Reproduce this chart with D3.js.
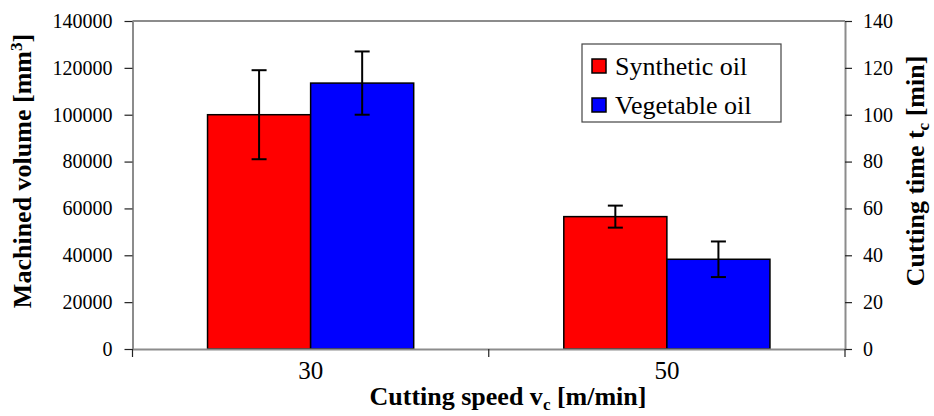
<html>

<head>
    <style>
        body { margin: 0; background: #fff; }
        .axis path, .frame { stroke: #8c8c8c; stroke-width: 2; fill: none; }
        .axis line { stroke: #222; stroke-width: 1.2; }
        .axis text { font-size: 20px; }
        .title { font-weight: bold; font-size: 26px; }
        .bar { stroke: #000; stroke-width: 1.5; }
        .err { stroke: #000; stroke-width: 2; }
    </style>
</head>

<body>
    <svg id="container" height="416" width="934"></svg>
</body>

<script src="https://cdn.jsdelivr.net/npm/d3@7"></script>
<script>
    // Data
    let speeds = ["30", "50"];
    let oils = ["Synthetic oil", "Vegetable oil"];
    let oilColors = ["#ff0000", "#0000ff"];
    let synthetic = [100000, 56500];
    let vegetable = [113500, 38300];
    let syntheticErr = [19000, 4700];
    let vegetableErr = [13500, 7600];
    let leftTicks = [0, 20000, 40000, 60000, 80000, 100000, 120000, 140000];
    let rightTicks = [0, 20, 40, 60, 80, 100, 120, 140];

    let serif = "'Liberation Serif', Tinos, 'Times New Roman', Times, 'DejaVu Serif', 'Noto Serif', serif";
    let svg = d3.select("#container");
    let plotLeft = 132.5, plotRight = 845, plotTop = 21, plotBottom = 349;

    // Scales
    let x0 = d3.scaleBand().domain(speeds).range([plotLeft, plotRight]);
    let x1 = d3.scaleBand().domain(oils).range([0, x0.bandwidth()]).paddingOuter(0.728);
    let yL = d3.scaleLinear().domain([0, 140000]).range([plotBottom, plotTop]);
    let yR = d3.scaleLinear().domain([0, 140]).range([plotBottom, plotTop]);

    let rows = speeds.map((s, i) => ({
        speed: s,
        vals: [
            { oil: oils[0], v: synthetic[i], e: syntheticErr[i] },
            { oil: oils[1], v: vegetable[i], e: vegetableErr[i] }
        ]
    }));

    // top frame line
    svg.append("line").attr("class", "frame")
        .attr("x1", plotLeft).attr("x2", plotRight).attr("y1", plotTop).attr("y2", plotTop);

    // Bars
    let groups = svg.selectAll(".grp").data(rows).enter().append("g")
        .attr("transform", d => `translate(${x0(d.speed)},0)`);

    groups.selectAll("rect").data(d => d.vals).enter().append("rect")
        .attr("class", "bar")
        .attr("x", d => x1(d.oil))
        .attr("width", x1.bandwidth())
        .attr("y", d => yL(d.v))
        .attr("height", d => plotBottom - yL(d.v))
        .attr("fill", d => oilColors[oils.indexOf(d.oil)]);

    // Error bars
    let eb = groups.selectAll(".eb").data(d => d.vals).enter().append("g")
        .attr("transform", d => `translate(${x1(d.oil) + x1.bandwidth() / 2},0)`);
    eb.append("line").attr("class", "err")
        .attr("y1", d => yL(d.v + d.e)).attr("y2", d => yL(d.v - d.e));
    eb.append("line").attr("class", "err")
        .attr("x1", -7.5).attr("x2", 7.5)
        .attr("y1", d => yL(d.v + d.e)).attr("y2", d => yL(d.v + d.e));
    eb.append("line").attr("class", "err")
        .attr("x1", -7.5).attr("x2", 7.5)
        .attr("y1", d => yL(d.v - d.e)).attr("y2", d => yL(d.v - d.e));

    // Axes
    svg.append("g").attr("class", "axis")
        .attr("transform", `translate(${plotLeft},0)`)
        .call(d3.axisLeft(yL).tickValues(leftTicks).tickFormat(d3.format("d"))
            .tickSize(8).tickPadding(12).tickSizeOuter(0));

    svg.append("g").attr("class", "axis")
        .attr("transform", `translate(${plotRight},0)`)
        .call(d3.axisRight(yR).tickValues(rightTicks).tickSize(7).tickPadding(11).tickSizeOuter(0));

    let xAxis = svg.append("g").attr("class", "axis")
        .attr("transform", `translate(0,${plotBottom})`)
        .call(d3.axisBottom(x0).tickSize(0).tickPadding(12).tickSizeOuter(0));
    xAxis.selectAll("text").style("font-size", "25px");

    // category boundary ticks
    let bounds = speeds.map(s => x0(s)).concat([plotRight]);
    xAxis.selectAll(".btick").data(bounds).enter().append("line")
        .attr("x1", d => d).attr("x2", d => d).attr("y1", 0).attr("y2", 8);

    // Axis titles
    let t1 = svg.append("text").attr("class", "title")
        .attr("transform", "translate(31,171) rotate(-90)")
        .attr("text-anchor", "middle");
    t1.append("tspan").text("Machined volume [mm");
    t1.append("tspan").attr("font-size", "17px").attr("dy", "-9").text("3");
    t1.append("tspan").attr("dy", "9").text("]");

    let t2 = svg.append("text").attr("class", "title")
        .attr("transform", "translate(924,171) rotate(-90)")
        .attr("text-anchor", "middle");
    t2.append("tspan").text("Cutting time t");
    t2.append("tspan").attr("font-size", "17px").attr("dy", "5").text("c");
    t2.append("tspan").attr("dy", "-5").text(" [min]");

    let t3 = svg.append("text").attr("class", "title")
        .attr("x", 508).attr("y", 405)
        .attr("text-anchor", "middle");
    t3.append("tspan").text("Cutting speed v");
    t3.append("tspan").attr("font-size", "17px").attr("dy", "5").text("c");
    t3.append("tspan").attr("dy", "-5").text(" [m/min]");

    // Legend
    let legend = svg.append("g").attr("transform", "translate(582,44)");
    legend.append("rect").attr("width", 199).attr("height", 78)
        .attr("fill", "#fff").attr("stroke", "#444").attr("stroke-width", 1.2);
    let li = legend.selectAll(".li").data(oils).enter().append("g")
        .attr("transform", (d, i) => `translate(10,${15 + i * 39})`);
    li.append("rect").attr("width", 14).attr("height", 14)
        .attr("fill", (d, i) => oilColors[i]).attr("stroke", "#000").attr("stroke-width", 1.5);
    li.append("text").attr("x", 23).attr("y", 16).style("font-size", "26px").text(d => d);

    svg.selectAll("text").style("font-family", serif).attr("fill", "#000");
</script>

</html>
